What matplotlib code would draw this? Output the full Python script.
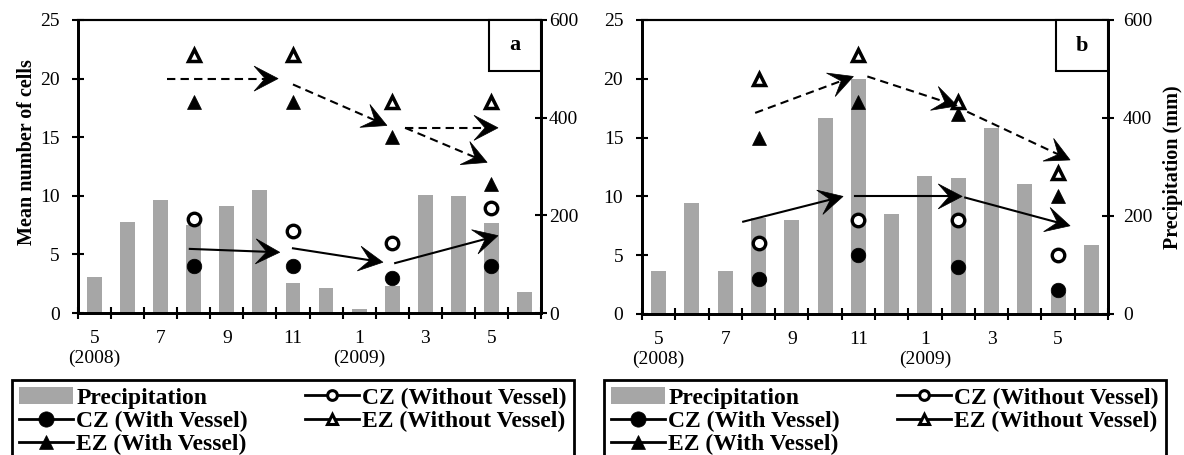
import numpy as np
import matplotlib
matplotlib.use("Agg")
import matplotlib.pyplot as plt
from matplotlib.patches import Rectangle, Polygon, Patch
from matplotlib.lines import Line2D

plt.rcParams['font.family'] = ['Liberation Serif', 'DejaVu Serif']

# months May 2008 .. June 2009
months = np.arange(14)
tick_pos = [0, 2, 4, 6, 8, 10, 12]
tick_labels = ['5\n(2008)', '7', '9', '11', '1\n(2009)', '3', '5']
sample_idx = [3, 6, 9, 12]   # Aug, Nov, Feb, May

# panel a
precip_a = [73, 186, 231, 180, 219, 252, 61, 51, 9, 55, 242, 240, 184, 42]
cz_wo_a = [8, 7, 6, 9]
cz_w_a = [4, 4, 3, 4]
ez_wo_a = [22, 22, 18, 18]
ez_w_a = [18, 18, 15, 11]
ez_arrows_a = [(2.2, 20.0, 5.55, 20.0), (6.0, 19.5, 8.84, 16.0),
               (9.39, 15.8, 12.2, 15.8), (9.39, 15.8, 11.87, 12.85)]
cz_arrows_a = [(2.88, 5.47, 5.6, 5.18), (6.0, 5.52, 8.72, 4.33),
               (9.09, 4.26, 12.2, 6.6)]

# panel b
precip_b = [88, 226, 88, 195, 192, 399, 479, 204, 282, 277, 380, 266, 45, 141]
cz_wo_b = [6, 8, 8, 5]
cz_w_b = [3, 5, 4, 2]
ez_wo_b = [20, 22, 18, 12]
ez_w_b = [15, 18, 17, 10]
ez_arrows_b = [(2.9, 17.1, 5.85, 20.2), (6.27, 20.2, 8.97, 17.7),
               (9.27, 17.2, 12.36, 13.1)]
cz_arrows_b = [(2.54, 7.85, 5.54, 10.0), (5.9, 10.0, 9.12, 10.0),
               (9.21, 9.9, 12.36, 7.5)]

BAR = '#A6A6A6'
W, H = 1184, 455
fig = plt.figure(figsize=(W / 100, H / 100), dpi=100)


def stealth(ax, x0, y0, x1, y1, dashed):
    p0 = ax.transData.transform((x0, y0))
    p1 = ax.transData.transform((x1, y1))
    d = p1 - p0
    d = d / np.hypot(*d)
    n = np.array([-d[1], d[0]])
    L, Wd, N = 24, 12.5, 13
    pts = np.array([p1, p1 - L * d + Wd * n, p1 - N * d, p1 - L * d - Wd * n])
    pts = ax.transData.inverted().transform(pts)
    ls = (0, (4, 2.5)) if dashed else '-'
    ax.plot([x0, pts[2][0]], [y0, pts[2][1]], color='k', lw=1.5, ls=ls, zorder=4)
    ax.add_patch(Polygon(pts, closed=True, fc='k', ec='k', lw=0.5, zorder=4))


def panel(box, precip, cz_wo, cz_w, ez_wo, ez_w, ez_arr, cz_arr, tag,
          lpad, rpad):
    ax = fig.add_axes(box)
    axp = ax.twinx()
    axp.bar(months, precip, width=0.45, color=BAR, zorder=1)
    axp.set_ylim(0, 600)
    axp.set_yticks([0, 200, 400, 600])
    ax.set_zorder(axp.get_zorder() + 1)
    ax.patch.set_visible(False)

    ax.set_xlim(-0.5, 13.5)
    ax.set_ylim(0, 25)
    ax.set_yticks(range(0, 26, 5))
    ax.set_xticks(np.arange(-0.5, 14, 1), minor=True)
    ax.set_xticks(tick_pos, tick_labels)

    ax.tick_params(axis='x', which='major', length=0, pad=12, labelsize=14)
    ax.tick_params(axis='x', which='minor', direction='inout', length=8, width=1.5)
    ax.tick_params(axis='y', direction='inout', length=8, width=1.5,
                   pad=lpad, labelsize=14)
    axp.tick_params(axis='y', direction='inout', length=8, width=1.5,
                    pad=rpad, labelsize=14)
    for a in (ax, axp):
        for s in a.spines.values():
            s.set_linewidth(2)
        a.spines['top'].set_linewidth(1.5)

    ax.plot(sample_idx, ez_wo, ls='none', marker='^', ms=9, mfc='white',
            mec='k', mew=2.5, zorder=3)
    ax.plot(sample_idx, ez_w, ls='none', marker='^', ms=10, mfc='k',
            mec='k', mew=0.5, zorder=3)
    ax.plot(sample_idx, cz_wo, ls='none', marker='o', ms=9, mfc='white',
            mec='k', mew=2.4, zorder=3)
    ax.plot(sample_idx, cz_w, ls='none', marker='o', ms=10.5, mfc='k',
            mec='k', mew=0.5, zorder=3)

    for a in ez_arr:
        stealth(ax, *a, dashed=True)
    for a in cz_arr:
        stealth(ax, *a, dashed=False)

    ax.add_patch(Rectangle((0.888, 0.826), 0.112, 0.174, transform=ax.transAxes,
                           fc='white', ec='k', lw=1.5, zorder=5, clip_on=False))
    ax.text(0.944, 0.913, tag, transform=ax.transAxes, ha='center', va='center',
            fontsize=16, fontweight='bold', zorder=6)
    return ax


ax_a = panel([78 / W, 1 - 313 / H, 463 / W, 293 / H], precip_a, cz_wo_a, cz_w_a,
             ez_wo_a, ez_w_a, ez_arrows_a, cz_arrows_a, 'a', 9, 1.8)
ax_b = panel([642 / W, 1 - 314 / H, 466 / W, 294 / H], precip_b, cz_wo_b, cz_w_b,
             ez_wo_b, ez_w_b, ez_arrows_b, cz_arrows_b, 'b', 9.5, 6.8)

fig.text(27 / W, 1 - 152 / H, 'Mean number of cells', rotation=90, ha='center',
         va='center', fontsize=14.5, fontweight='bold')
fig.text(1173 / W, 1 - 167 / H, 'Precipitation (mm)', rotation=90, ha='center',
         va='center', fontsize=14.5, fontweight='bold')

handles = [
    Patch(fc=BAR, label='Precipitation'),
    Line2D([], [], color='k', lw=2, marker='o', ms=11, mfc='k', mew=0.5,
           label='CZ (With Vessel)'),
    Line2D([], [], color='k', lw=2, marker='^', ms=10, mfc='k', mew=0.5,
           label='EZ (With Vessel)'),
    Line2D([], [], color='k', lw=2, marker='o', ms=7, mfc='white', mew=2.2,
           label='CZ (Without Vessel)'),
    Line2D([], [], color='k', lw=2, marker='^', ms=7.5, mfc='white', mew=2.2,
           label='EZ (Without Vessel)'),
]
for ax, x0 in ((ax_a, 12), (ax_b, 604)):
    leg = ax.legend(handles=handles, ncol=2, loc='upper left',
                    bbox_to_anchor=(x0 / W, 1 - 380 / H),
                    bbox_transform=fig.transFigure, frameon=True, fancybox=False,
                    framealpha=1, edgecolor='k',
                    prop={'weight': 'bold', 'size': 17},
                    handlelength=2.3, handletextpad=0.13, columnspacing=2.4,
                    labelspacing=0.08, borderpad=0.3, borderaxespad=0)
    leg.get_frame().set_linewidth(2)
    leg.set_zorder(10)

fig.savefig('out.png', dpi=100)
